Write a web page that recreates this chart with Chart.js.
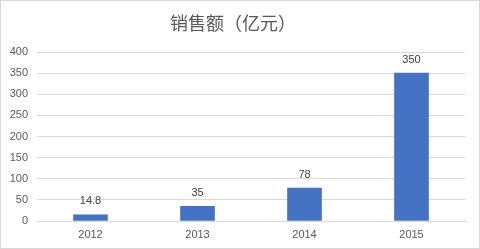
<!DOCTYPE html>
<html><head><meta charset="utf-8">
<script src="https://cdn.jsdelivr.net/npm/chart.js@4/dist/chart.umd.min.js"></script>
<style>
html,body{margin:0;padding:0;background:#fff;}
#wrap{width:480px;height:249px;box-sizing:border-box;border:1px solid #d9d9d9;position:relative;}
canvas{display:block;}
</style></head>
<body>
<div id="wrap"><canvas id="c" width="478" height="247"></canvas></div>
<script>
const categories = ['2012','2013','2014','2015'];
const sales = [14.8, 35, 78, 350];
const titleText = '销售额（亿元）';

const font = "'Noto Sans CJK SC', 'Liberation Sans', sans-serif";
const labelPlugin = {
  id: 'vals',
  afterDatasetsDraw(chart) {
    const ctx = chart.ctx;
    const meta = chart.getDatasetMeta(0);
    ctx.save();
    ctx.font = "11px 'Liberation Sans', sans-serif";
    ctx.fillStyle = '#404040';
    ctx.textAlign = 'center';
    ctx.textBaseline = 'middle';
    meta.data.forEach((bar, i) => {
      ctx.fillText(String(sales[i]), bar.x, bar.y - 13.5);
    });
    ctx.restore();
  }
};

new Chart(document.getElementById('c'), {
  type: 'bar',
  data: {
    labels: categories,
    datasets: [{ data: sales, backgroundColor: '#4472c4', barThickness: 34 }]
  },
  options: {
    responsive: false,
    animation: false,
    devicePixelRatio: 1,
    layout: { padding: { left: 0, right: 14, top: 0, bottom: 0 } },
    plugins: {
      legend: { display: false },
      tooltip: { enabled: false },
      title: {
        display: true, text: titleText, color: '#595959',
        font: { family: font, size: 18, weight: 'normal', lineHeight: 1.2 },
        padding: { top: 11, bottom: 18.4 }
      }
    },
    scales: {
      x: {
        grid: { display: false, drawTicks: false },
        border: { display: true, color: '#d9d9d9' },
        ticks: { color: '#595959', font: { family: "'Liberation Sans', sans-serif", size: 11 }, padding: 7 },
        afterFit(s) { s.height = 27; }
      },
      y: {
        min: 0, max: 400,
        ticks: { stepSize: 50, color: '#595959', font: { family: "'Liberation Sans', sans-serif", size: 11 }, padding: 9 },
        grid: { color: '#d9d9d9', drawTicks: false },
        border: { display: false },
        afterFit(s) { s.width = 36; }
      }
    }
  },
  plugins: [labelPlugin]
});
</script>
</body></html>
